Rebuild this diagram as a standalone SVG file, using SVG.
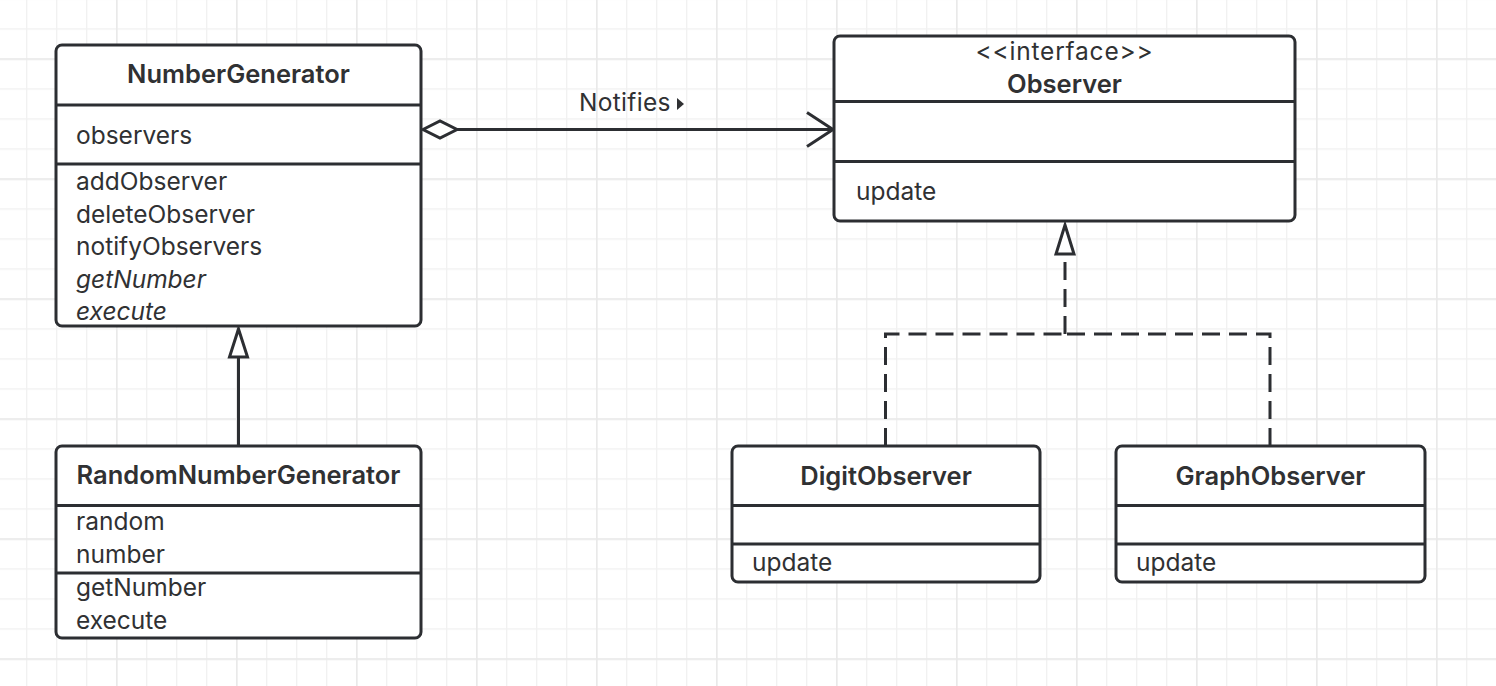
<svg xmlns="http://www.w3.org/2000/svg" width="1496" height="686" viewBox="0 0 1496 686">
<defs>
<pattern id="minor" patternUnits="userSpaceOnUse" x="26" y="28.3" width="30" height="30">
<rect x="0" y="0" width="1.4" height="30" fill="#f1f1f1"/>
<rect x="0" y="0" width="30" height="1.4" fill="#f1f1f1"/>
</pattern>
<pattern id="major" patternUnits="userSpaceOnUse" x="116" y="58.3" width="120" height="120">
<rect x="0" y="0" width="1.6" height="120" fill="#e9e9e9"/>
<rect x="0" y="0" width="120" height="1.6" fill="#e9e9e9"/>
</pattern>
</defs>
<style>
.box{fill:#fff;stroke:#2c2e32;stroke-width:3}
.div{stroke:#2c2e32;stroke-width:3;fill:none}
.t{font-family:Inter,"Liberation Sans",sans-serif;font-size:24.5px;fill:#303133}
.b{font-weight:600;font-size:25.5px;text-anchor:middle}
.i{font-style:italic}
.ln{stroke:#2c2e32;stroke-width:3;fill:none}
.dash{stroke-dasharray:18 9}
</style>
<rect width="1496" height="686" fill="#fff"/>
<rect width="1496" height="686" fill="url(#minor)"/>
<rect width="1496" height="686" fill="url(#major)"/>

<g id="connectors">
<g id="aggregation">
<line class="ln" x1="457" y1="129.5" x2="832" y2="129.5"/>
<path class="ln" d="M423,129.5 L440,121 L457,129.5 L440,138 Z" style="fill:#fff"/>
<polyline class="ln" points="807,112.5 833,129.5 807,146.5"/>
<text class="t" x="579" y="110.7" style="letter-spacing:0.3px">Notifies</text>
<path d="M677,98 L684,104 L677,110 Z" fill="#303133"/>
</g>
<g id="generalization">
<line class="ln" x1="238.5" y1="446" x2="238.5" y2="357"/>
<path class="ln" d="M238.5,329 L247.5,357 L229.5,357 Z" style="fill:#fff"/>
</g>
<g id="realization">
<path class="ln dash" d="M885.5,446 V334 H1065"/>
<path class="ln dash" d="M1270,446 V334 H1065"/>
<path class="ln dash" d="M1065,334 V254"/>
<path class="ln" d="M1065,225 L1074,254 L1056,254 Z" style="fill:#fff"/>
</g>
</g>

<g id="NumberGenerator">
<rect class="box" x="56" y="45" width="365" height="281" rx="6"/>
<line class="div" x1="56" y1="105" x2="421" y2="105"/>
<line class="div" x1="56" y1="164" x2="421" y2="164"/>
<text class="t b" x="238.5" y="83">NumberGenerator</text>
<text class="t" x="76" y="144">observers</text>
<text class="t" x="76" y="190">addObserver</text>
<text class="t" x="76" y="222.5">deleteObserver</text>
<text class="t" x="76" y="255">notifyObservers</text>
<text class="t i" x="76" y="287.5">getNumber</text>
<text class="t i" x="76" y="320">execute</text>
</g>

<g id="RandomNumberGenerator">
<rect class="box" x="56" y="446" width="365" height="192" rx="6"/>
<line class="div" x1="56" y1="505.5" x2="421" y2="505.5"/>
<line class="div" x1="56" y1="573" x2="421" y2="573"/>
<text class="t b" x="238.5" y="484">RandomNumberGenerator</text>
<text class="t" x="76" y="530">random</text>
<text class="t" x="76" y="563">number</text>
<text class="t" x="76" y="596">getNumber</text>
<text class="t" x="76" y="629">execute</text>
</g>

<g id="Observer">
<rect class="box" x="834" y="36" width="461" height="185" rx="6"/>
<line class="div" x1="834" y1="101.5" x2="1295" y2="101.5"/>
<line class="div" x1="834" y1="161.5" x2="1295" y2="161.5"/>
<text class="t" x="1064.5" y="60" text-anchor="middle" style="letter-spacing:0.8px">&lt;&lt;interface&gt;&gt;</text>
<text class="t b" x="1064.5" y="92.5">Observer</text>
<text class="t" x="856" y="200">update</text>
</g>

<g id="DigitObserver">
<rect class="box" x="732" y="446" width="308" height="136" rx="6"/>
<line class="div" x1="732" y1="505.5" x2="1040" y2="505.5"/>
<line class="div" x1="732" y1="544" x2="1040" y2="544"/>
<text class="t b" x="886" y="485">DigitObserver</text>
<text class="t" x="752" y="571">update</text>
</g>

<g id="GraphObserver">
<rect class="box" x="1116" y="446" width="309" height="136" rx="6"/>
<line class="div" x1="1116" y1="505.5" x2="1425" y2="505.5"/>
<line class="div" x1="1116" y1="544" x2="1425" y2="544"/>
<text class="t b" x="1270.5" y="485">GraphObserver</text>
<text class="t" x="1136" y="571">update</text>
</g>
</svg>
